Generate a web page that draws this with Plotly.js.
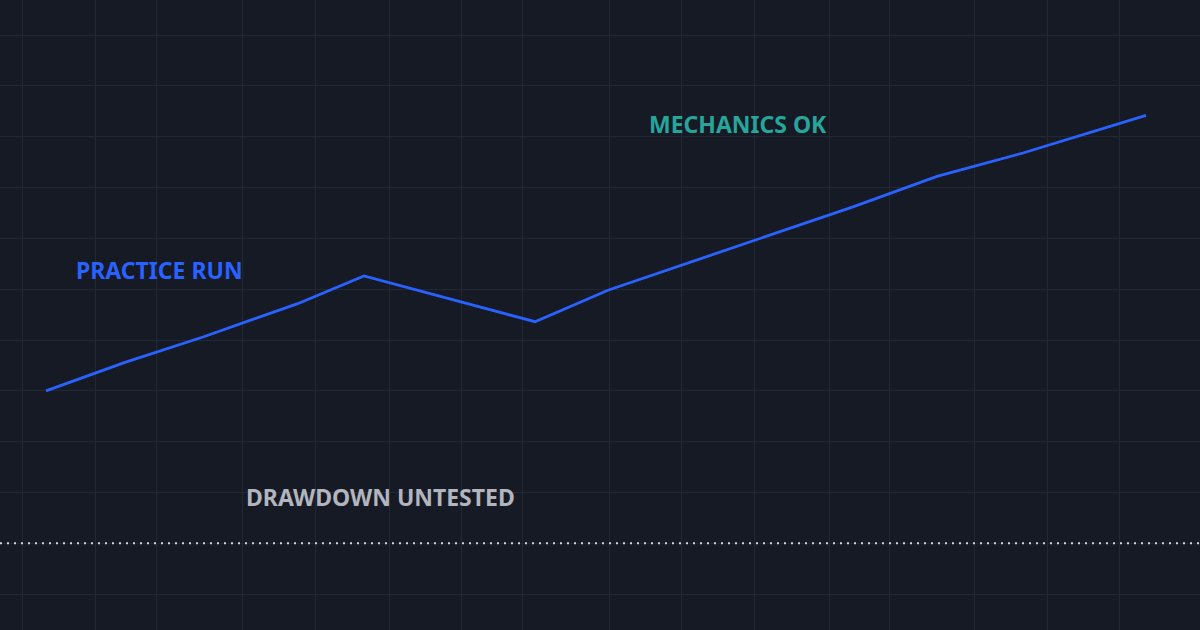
<!DOCTYPE html>
<html>
<head>
<meta charset="utf-8">
<script src="https://cdn.plot.ly/plotly-3.0.1.min.js"></script>
<style>
  html, body { margin: 0; padding: 0; background: #161a25; }
  #chart { width: 1200px; height: 630px; }
</style>
</head>
<body>
<div id="chart"></div>
<script>
// Equity curve (session index vs. equity %)
const sessions = [4.6, 12.5, 20.3, 29.7, 36.4, 53.5, 60.8, 73.0, 85.3, 93.7, 102.3, 114.6];
const equity   = [15.0, 17.8, 20.3, 23.55, 26.3, 21.8, 24.9, 29.0, 33.1, 36.1, 38.4, 42.1];

// Grid positions
const xGrid = [2.27, 9.5, 15.67, 24.23, 31.5, 38.9, 46.17, 52.23, 60.9, 68.17, 75.43, 82.9, 88.9, 97.4, 104.7, 111.9];
const yGrid = [-5, 0, 5, 10, 15, 20, 25, 30, 35, 40, 45, 50];
const baseline = 0;

// Labels
const labels = ["PRACTICE RUN", "MECHANICS OK", "DRAWDOWN UNTESTED"];
const labelColors = ["#2962ff", "#26a69a", "#b2b5be"];

const bg = "#161a25";
const gridColor = "#222736";

const traces = [{
  x: sessions,
  y: equity,
  type: "scatter",
  mode: "lines",
  line: { color: "#2962ff", width: 2.8 },
  hoverinfo: "skip"
}];

const layout = {
  width: 1200,
  height: 630,
  margin: { l: 0, r: 0, t: 0, b: 0 },
  paper_bgcolor: bg,
  plot_bgcolor: bg,
  showlegend: false,
  xaxis: {
    range: [0, 120],
    tickvals: xGrid,
    showticklabels: false,
    showgrid: true,
    gridcolor: gridColor,
    gridwidth: 1,
    zeroline: false,
    showline: false,
    ticks: ""
  },
  yaxis: {
    range: [-8.53, 53.45],
    tickvals: yGrid,
    showticklabels: false,
    showgrid: true,
    gridcolor: gridColor,
    gridwidth: 1,
    zeroline: false,
    showline: false,
    ticks: ""
  },
  shapes: [{
    type: "line",
    xref: "paper", x0: 0, x1: 1,
    yref: "y", y0: baseline, y1: baseline,
    line: { color: "#d1d4dc", width: 2, dash: "2px,5px" },
    layer: "above"
  }],
  annotations: [
    { text: labels[0], xref: "paper", yref: "paper", x: 0.0617, y: 0.5714, xanchor: "left", yanchor: "middle", showarrow: false,
      font: { family: "Noto Sans", size: 23, color: labelColors[0], weight: 700 } },
    { text: labels[1], xref: "paper", yref: "paper", x: 0.5392, y: 0.8032, xanchor: "left", yanchor: "middle", showarrow: false,
      font: { family: "Noto Sans", size: 23, color: labelColors[1], weight: 700 } },
    { text: labels[2], xref: "paper", yref: "paper", x: 0.2033, y: 0.2111, xanchor: "left", yanchor: "middle", showarrow: false,
      font: { family: "Noto Sans", size: 23, color: labelColors[2], weight: 700 } }
  ]
};

Plotly.newPlot("chart", traces, layout, { displayModeBar: false, staticPlot: true });
</script>
</body>
</html>
